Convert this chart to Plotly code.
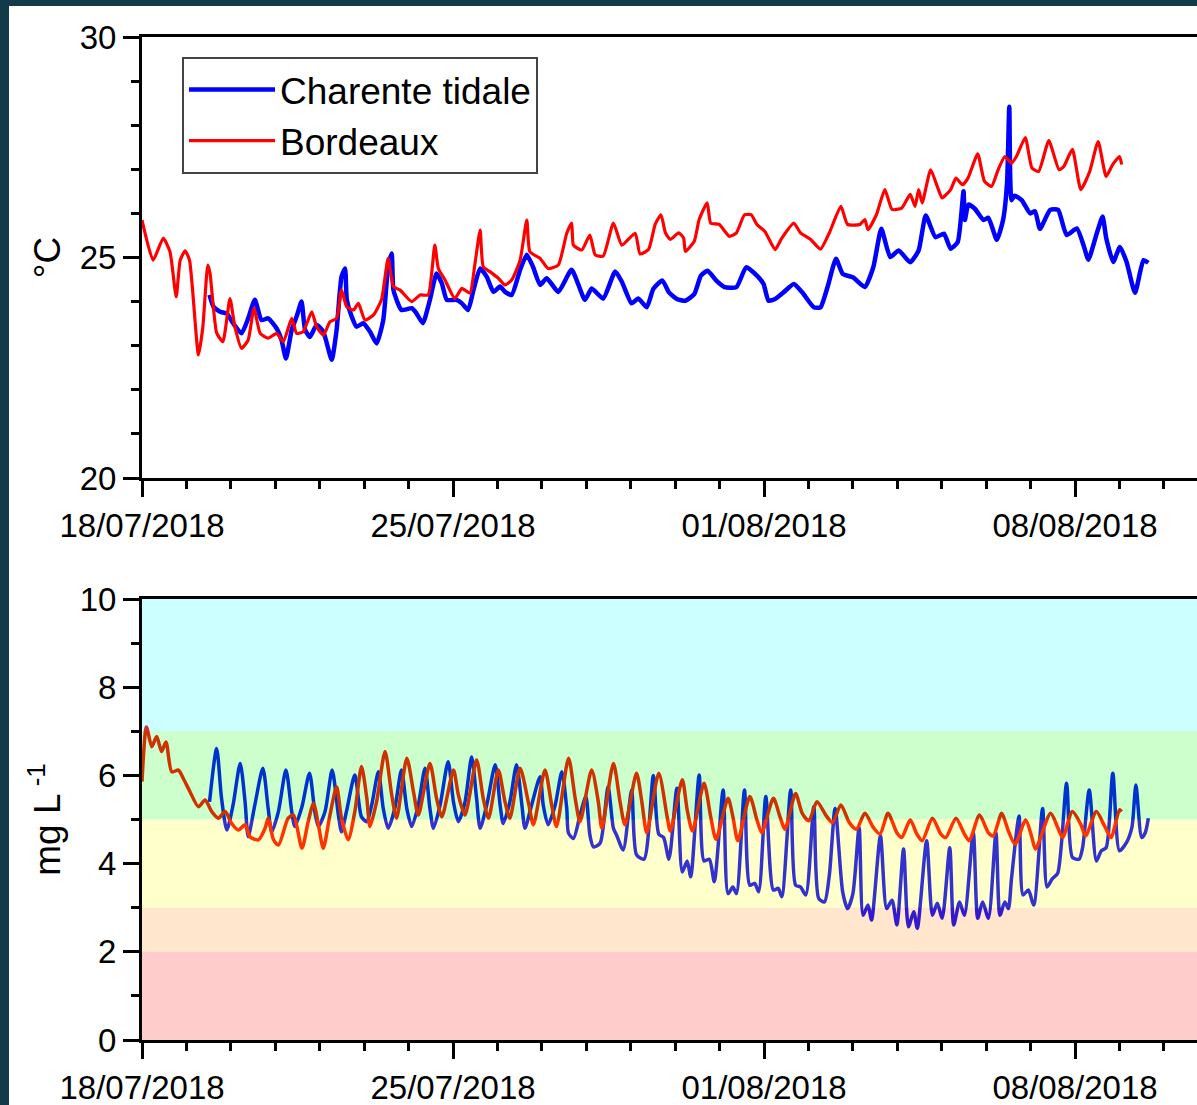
import pandas as pd
import plotly.graph_objects as go

START = pd.Timestamp("2018-07-18")

# ---------------- data (days since 18/07/2018 00:00) ----------------
temp_bordeaux_day = [0, 0.25, 0.48, 0.63, 0.77, 0.86, 0.97, 1.07, 1.27, 1.37, 1.48, 1.53, 1.68, 1.82, 1.98, 2.09,
                     2.24, 2.39, 2.52, 2.66, 2.84, 3.03, 3.18, 3.37, 3.48, 3.63, 3.82, 3.93, 4.08, 4.23, 4.38, 4.49,
                     4.61, 4.76, 4.87, 5.02, 5.21, 5.39, 5.54, 5.66, 5.81, 6.07, 6.26, 6.44, 6.59, 6.67, 6.82, 7.04,
                     7.20, 7.38, 7.49, 7.61, 7.68, 7.83, 8.02, 8.17, 8.32, 8.51, 8.66, 8.73, 8.96, 9.14, 9.37, 9.56,
                     9.67, 9.71, 9.90, 10.08, 10.20, 10.38, 10.61, 10.80, 11.10, 11.21, 11.40, 11.55, 11.68, 11.78,
                     11.89, 12.08, 12.19, 12.23, 12.43, 12.54, 12.72, 12.80, 12.99, 13.22, 13.38, 13.56, 13.71, 13.84,
                     14.02, 14.25, 14.40, 14.67, 14.82, 15.05, 15.27, 15.47, 15.73, 15.88, 16.16, 16.27, 16.34, 16.53,
                     16.72, 16.88, 17.10, 17.29, 17.40, 17.48, 17.56, 17.75, 17.90, 18.01, 18.20, 18.32, 18.47, 18.59,
                     18.81, 18.96, 19.12, 19.27, 19.42, 19.57, 19.68, 19.88, 20.03, 20.18, 20.41, 20.64, 20.75, 20.94,
                     21.13, 21.33, 21.52, 21.70, 21.85, 22.00, 22.05]
temp_bordeaux = [25.85, 24.94, 25.44, 25.13, 24.11, 24.94, 25.15, 24.94, 22.79, 23.43, 24.83, 24.65, 23.29, 23.09,
                 24.07, 23.43, 22.94, 23.13, 23.85, 23.28, 23.17, 23.28, 23.09, 23.62, 23.28, 23.32, 23.77, 23.43,
                 23.24, 23.54, 23.62, 24.26, 23.88, 23.81, 23.96, 23.58, 23.70, 24.04, 24.98, 24.34, 24.26, 24.00,
                 24.15, 24.15, 25.28, 24.75, 24.49, 24.07, 24.30, 24.19, 24.83, 25.62, 24.79, 24.68, 24.53, 24.38,
                 24.49, 24.94, 25.85, 25.13, 24.98, 24.75, 24.83, 25.55, 25.78, 25.28, 25.17, 25.51, 25.06, 25.03,
                 25.78, 25.28, 25.55, 25.08, 25.18, 25.75, 25.97, 25.56, 25.41, 25.56, 25.44, 25.14, 25.37, 25.86,
                 26.24, 25.78, 25.75, 25.48, 25.56, 25.97, 25.97, 25.75, 25.59, 25.18, 25.44, 25.78, 25.56, 25.41,
                 25.19, 25.56, 26.16, 25.75, 25.75, 25.86, 25.63, 25.97, 26.54, 26.09, 26.12, 26.43, 26.16, 26.54,
                 26.24, 26.99, 26.61, 26.35, 26.54, 26.80, 26.65, 26.80, 27.35, 26.73, 26.61, 26.99, 27.29, 27.14,
                 27.29, 27.72, 27.03, 26.95, 27.65, 26.99, 27.07, 27.45, 26.54, 26.95, 27.63, 26.84, 27.11, 27.29,
                 27.11]

temp_charente_day = [1.52, 1.61, 1.76, 1.91, 2.05, 2.24, 2.39, 2.54, 2.69, 2.84, 3.03, 3.14, 3.24, 3.37, 3.48, 3.59,
                     3.67, 3.78, 3.93, 4.08, 4.27, 4.38, 4.49, 4.57, 4.61, 4.72, 4.83, 4.98, 5.13, 5.28, 5.43, 5.54,
                     5.62, 5.66, 5.84, 6.07, 6.18, 6.32, 6.48, 6.63, 6.75, 6.86, 7.08, 7.20, 7.34, 7.46, 7.61, 7.76,
                     7.91, 8.06, 8.17, 8.32, 8.51, 8.66, 8.80, 8.96, 9.11, 9.37, 9.67, 9.97, 10.12, 10.38, 10.65, 10.80,
                     11.02, 11.17, 11.36, 11.51, 11.71, 11.86, 12.04, 12.23, 12.43, 12.58, 12.73, 12.92, 13.11, 13.38,
                     13.60, 13.84, 13.99, 14.10, 14.25, 14.44, 14.67, 14.86, 15.12, 15.27, 15.43, 15.62, 15.77, 16.00,
                     16.27, 16.46, 16.64, 16.84, 17.03, 17.29, 17.48, 17.64, 17.86, 18.05, 18.20, 18.36, 18.49, 18.52,
                     18.60, 18.75, 18.94, 19.05, 19.24, 19.38, 19.47, 19.52, 19.57, 19.64, 19.80, 19.99, 20.10, 20.21,
                     20.44, 20.62, 20.81, 21.04, 21.20, 21.30, 21.49, 21.62, 21.70, 21.86, 22.01, 22.16, 22.35, 22.54,
                     22.65]
temp_charente = [24.15, 23.88, 23.77, 23.73, 23.51, 23.28, 23.62, 24.04, 23.58, 23.62, 23.39, 23.13, 22.71, 23.36,
                 23.66, 24.00, 23.36, 23.20, 23.47, 23.32, 22.68, 23.36, 24.56, 24.75, 24.04, 23.66, 23.43, 23.51,
                 23.32, 23.05, 23.58, 24.79, 25.09, 24.26, 23.81, 23.85, 23.73, 23.51, 24.04, 24.64, 24.41, 24.04,
                 24.04, 23.96, 23.81, 24.26, 24.75, 24.56, 24.22, 24.34, 24.22, 24.15, 24.72, 25.06, 24.79, 24.38,
                 24.53, 24.22, 24.72, 24.04, 24.30, 24.07, 24.68, 24.45, 23.96, 24.07, 23.87, 24.29, 24.48, 24.21,
                 24.06, 24.02, 24.17, 24.59, 24.70, 24.48, 24.33, 24.33, 24.78, 24.59, 24.40, 24.02, 24.06, 24.21,
                 24.40, 24.21, 23.87, 23.87, 24.33, 24.97, 24.63, 24.55, 24.33, 24.78, 25.65, 25.01, 25.16, 24.89,
                 25.16, 25.95, 25.46, 25.54, 25.20, 25.35, 26.50, 25.85, 26.20, 26.10, 25.85, 25.90, 25.40, 25.85,
                 26.70, 28.42, 26.30, 26.40, 26.30, 26.00, 26.05, 25.65, 26.08, 26.08, 25.51, 25.66, 25.25, 24.95,
                 25.55, 25.93, 25.45, 24.90, 25.24, 24.90, 24.20, 24.94, 24.88]

do_bordeaux_day = [0, 0.10, 0.22, 0.33, 0.44, 0.54, 0.67, 0.82, 0.93, 1.08, 1.27, 1.42, 1.57, 1.72, 1.87, 2.02, 2.17,
                   2.32, 2.43, 2.62, 2.77, 2.84, 2.96, 3.07, 3.29, 3.41, 3.60, 3.74, 3.86, 3.97, 4.08, 4.23, 4.38,
                   4.49, 4.64, 4.79, 4.94, 5.06, 5.13, 5.28, 5.47, 5.62, 5.73, 5.96, 6.11, 6.22, 6.48, 6.63, 6.75,
                   7.01, 7.12, 7.27, 7.53, 7.68, 7.80, 8.02, 8.17, 8.28, 8.51, 8.70, 8.81, 9.07, 9.22, 9.33, 9.60,
                   9.75, 9.86, 10.12, 10.27, 10.35, 10.61, 10.76, 10.87, 11.13, 11.25, 11.36, 11.63, 11.82, 11.89,
                   12.16, 12.27, 12.39, 12.65, 12.80, 12.92, 13.19, 13.30, 13.41, 13.68, 13.84, 13.95, 14.21, 14.36,
                   14.47, 14.71, 14.86, 15.01, 15.19, 15.39, 15.54, 15.73, 15.92, 16.08, 16.27, 16.46, 16.61, 16.79,
                   16.99, 17.10, 17.29, 17.44, 17.56, 17.79, 17.98, 18.09, 18.32, 18.51, 18.62, 18.85, 19.05, 19.16,
                   19.35, 19.50, 19.65, 19.89, 20.03, 20.11, 20.45, 20.61, 20.72, 20.94, 21.13, 21.24, 21.48, 21.66,
                   21.81, 22.00, 22.05]
do_bordeaux = [5.86, 7.10, 6.65, 6.88, 6.54, 6.76, 6.08, 6.12, 5.93, 5.63, 5.29, 5.44, 5.18, 5.03, 5.18, 4.91, 4.76,
               4.88, 4.61, 4.54, 4.80, 5.03, 4.54, 4.42, 5.03, 5.10, 4.35, 4.95, 5.37, 4.88, 4.35, 5.10, 5.74, 5.03,
               4.54, 5.18, 6.20, 5.48, 4.84, 5.40, 6.54, 5.56, 5.03, 6.39, 5.63, 5.10, 6.27, 5.48, 5.06, 6.12, 5.56,
               5.10, 6.35, 5.48, 5.03, 6.12, 5.40, 5.03, 6.16, 5.37, 4.88, 6.12, 5.33, 4.84, 6.39, 5.48, 4.95, 6.12,
               5.40, 4.80, 6.27, 5.40, 4.88, 6.05, 5.40, 4.70, 6.05, 5.06, 4.74, 5.90, 5.22, 4.74, 5.82, 5.06, 4.55,
               5.48, 5.06, 4.52, 5.52, 4.99, 4.70, 5.48, 5.06, 4.78, 5.59, 5.14, 4.97, 5.40, 5.10, 4.93, 5.33, 4.93,
               4.78, 5.14, 4.82, 4.67, 5.14, 4.70, 4.59, 4.99, 4.67, 4.52, 5.03, 4.67, 4.59, 5.03, 4.67, 4.52, 5.10,
               4.70, 4.63, 5.14, 4.74, 4.44, 4.99, 4.59, 4.33, 5.14, 4.82, 4.59, 5.18, 4.89, 4.63, 5.18, 4.86, 4.59,
               5.22, 5.18]

do_charente_day = [1.52, 1.68, 1.79, 1.91, 2.05, 2.21, 2.32, 2.39, 2.54, 2.72, 2.84, 2.92, 3.07, 3.24, 3.37, 3.44,
                   3.60, 3.77, 3.89, 3.97, 4.12, 4.28, 4.42, 4.49, 4.61, 4.79, 4.94, 5.06, 5.17, 5.32, 5.43, 5.54,
                   5.69, 5.84, 5.96, 6.07, 6.22, 6.37, 6.48, 6.56, 6.71, 6.89, 7.01, 7.12, 7.27, 7.42, 7.53, 7.61,
                   7.76, 7.95, 8.06, 8.13, 8.28, 8.43, 8.55, 8.62, 8.77, 8.96, 9.03, 9.14, 9.30, 9.45, 9.56, 9.60,
                   9.71, 9.86, 9.99, 10.08, 10.16, 10.31, 10.49, 10.61, 10.68, 10.83, 11.02, 11.13, 11.30, 11.51,
                   11.63, 11.74, 11.86, 12.04, 12.16, 12.27, 12.35, 12.54, 12.65, 12.77, 12.88, 13.08, 13.19, 13.30,
                   13.38, 13.56, 13.68, 13.79, 13.88, 14.04, 14.21, 14.32, 14.40, 14.60, 14.71, 14.82, 14.94, 15.12,
                   15.23, 15.36, 15.47, 15.60, 15.77, 15.88, 16.00, 16.14, 16.23, 16.34, 16.42, 16.62, 16.76, 16.88,
                   16.99, 17.14, 17.25, 17.37, 17.45, 17.66, 17.79, 17.90, 18.01, 18.18, 18.27, 18.40, 18.51, 18.71,
                   18.81, 18.92, 19.05, 19.22, 19.31, 19.42, 19.50, 19.57, 19.74, 19.83, 19.95, 20.07, 20.27, 20.37,
                   20.49, 20.61, 20.81, 20.94, 21.09, 21.17, 21.32, 21.48, 21.59, 21.70, 21.85, 22.00, 22.16, 22.28,
                   22.37, 22.50, 22.58, 22.65]
do_charente = [5.40, 6.61, 5.48, 4.76, 5.33, 6.27, 5.40, 4.61, 5.33, 6.16, 5.25, 4.72, 5.18, 6.12, 5.18, 4.84, 5.29,
               6.05, 5.18, 4.84, 5.18, 6.12, 5.10, 4.72, 5.22, 6.01, 5.06, 4.95, 5.33, 6.08, 5.25, 4.80, 5.25, 6.12,
               5.25, 4.84, 5.33, 6.16, 5.25, 4.80, 5.33, 6.31, 5.40, 4.95, 5.40, 6.42, 5.48, 4.80, 5.33, 6.24, 5.33,
               4.91, 5.40, 6.24, 5.33, 4.80, 5.33, 5.97, 5.33, 4.88, 5.33, 6.08, 5.25, 4.69, 4.57, 5.10, 5.52, 4.65,
               4.38, 4.46, 5.74, 4.80, 4.65, 4.31, 5.67, 4.20, 4.10, 6.00, 4.67, 4.59, 4.10, 5.71, 3.81, 4.06, 3.70,
               6.01, 4.06, 4.10, 3.59, 5.67, 3.32, 3.47, 3.32, 5.67, 3.51, 3.55, 3.36, 5.52, 3.40, 3.44, 3.25, 5.67,
               3.51, 3.47, 3.29, 5.29, 3.21, 3.13, 3.74, 5.25, 3.36, 2.98, 3.32, 4.82, 2.83, 3.06, 2.72, 4.63, 2.98,
               3.17, 2.61, 4.33, 2.57, 2.91, 2.53, 4.52, 2.83, 3.10, 2.76, 4.36, 2.61, 3.13, 2.83, 4.70, 2.76, 3.13,
               2.76, 4.70, 2.83, 3.13, 2.98, 3.66, 5.08, 3.29, 3.40, 3.06, 5.25, 3.47, 3.66, 3.78, 5.82, 4.14, 4.10,
               4.36, 5.67, 4.06, 4.29, 4.36, 6.05, 4.29, 4.48, 4.82, 5.78, 4.59, 4.70, 5.03]

# oxygen classes (mg/L) shown as coloured bands
do_band_edges = [0, 2, 3, 5, 7, 10]
do_band_colors = ["#ff0000", "#ff8000", "#ffff00", "#00ff00", "#00ffff"]

x_tick_start = "2018-07-18"
x_end_days = 23.745


def to_time(days):
    return START + pd.to_timedelta(days, unit="D")


FONT = "Liberation Sans, Arial, sans-serif"
W, H = 1197, 1105
ML, MR, MT, MB = 142, 0, 37, 65
PW, PH = W - ML - MR, H - MT - MB


def px_x(p):
    return (p - ML) / PW


def px_y(p):
    return (H - MB - p) / PH


fig = go.Figure()

fig.add_trace(go.Scatter(x=to_time(temp_charente_day), y=temp_charente, mode="lines",
                         name="Charente tidale",
                         line=dict(color="#0000ff", width=4.5, shape="spline", smoothing=0.5),
                         xaxis="x", yaxis="y"))
fig.add_trace(go.Scatter(x=to_time(temp_bordeaux_day), y=temp_bordeaux, mode="lines",
                         name="Bordeaux",
                         line=dict(color="#ff0000", width=3.2, shape="spline", smoothing=0.5),
                         xaxis="x", yaxis="y"))
fig.add_trace(go.Scatter(x=to_time(do_charente_day), y=do_charente, mode="lines",
                         name="Charente tidale", showlegend=False,
                         line=dict(color="#0000ff", width=3.5, shape="spline", smoothing=0.7),
                         xaxis="x2", yaxis="y2"))
fig.add_trace(go.Scatter(x=to_time(do_bordeaux_day), y=do_bordeaux, mode="lines",
                         name="Bordeaux", showlegend=False,
                         line=dict(color="#ff0000", width=3.5, shape="spline", smoothing=0.7),
                         xaxis="x2", yaxis="y2"))

x_range = [START, START + pd.Timedelta(days=x_end_days)]
xcommon = dict(type="date", range=x_range, tickformat="%d/%m/%Y", dtick=7 * 86400000, tick0=x_tick_start,
               showline=True, linecolor="black", linewidth=3, mirror=True,
               ticks="outside", ticklen=16, tickwidth=3, tickcolor="black",
               minor=dict(dtick=86400000, tick0=x_tick_start, ticks="outside", ticklen=8, tickwidth=3,
                          tickcolor="black", showgrid=False),
               showgrid=False, zeroline=False,
               tickfont=dict(family=FONT, size=33, color="black"))
ycommon = dict(showline=True, linecolor="black", linewidth=3, ticks="outside", ticklen=16, tickwidth=3,
               tickcolor="black", showgrid=False, zeroline=False,
               tickfont=dict(family=FONT, size=33, color="black"))

top_dom = [px_y(478), 1.0]
bot_dom = [0.0, px_y(599)]

fig.update_layout(
    width=W, height=H,
    margin=dict(l=ML, r=MR, t=MT, b=MB, autoexpand=False),
    paper_bgcolor="white", plot_bgcolor="white",
    font=dict(family=FONT, color="black"),
    xaxis=dict(**xcommon, anchor="y", domain=[0, 1]),
    xaxis2=dict(**xcommon, anchor="y2", domain=[0, 1]),
    yaxis=dict(**ycommon, anchor="x", domain=top_dom, range=[20, 30], dtick=5, tick0=0,
               minor=dict(dtick=1, ticks="outside", ticklen=8, tickwidth=3, tickcolor="black", showgrid=False),
               title=dict(text="°C", font=dict(family=FONT, size=37, color="black"), standoff=8)),
    yaxis2=dict(**ycommon, anchor="x2", domain=bot_dom, range=[0, 10], dtick=2, tick0=0,
                minor=dict(dtick=1, ticks="outside", ticklen=8, tickwidth=3, tickcolor="black", showgrid=False),
                title=dict(text="mg L<sup> -1</sup>", font=dict(family=FONT, size=37, color="black"), standoff=8)),
    legend=dict(x=px_x(182), y=px_y(57), xanchor="left", yanchor="top",
                bgcolor="white", bordercolor="#444444", borderwidth=2,
                font=dict(family=FONT, size=37, color="black"), itemwidth=86, tracegroupgap=0),
    showlegend=True,
)

shapes = []
for lo, hi, col in zip(do_band_edges[:-1], do_band_edges[1:], do_band_colors):
    shapes.append(dict(type="rect", xref="x2 domain", x0=0, x1=1, yref="y2", y0=lo, y1=hi,
                       fillcolor=col, opacity=0.2, line=dict(width=0), layer="above"))
# dark frame around the figure (left and top)
shapes.append(dict(type="rect", xref="paper", yref="paper", x0=px_x(-5), x1=px_x(9), y0=px_y(H + 5), y1=px_y(-5),
                   fillcolor="#133a48", line=dict(width=0), layer="above"))
shapes.append(dict(type="rect", xref="paper", yref="paper", x0=px_x(-5), x1=px_x(W + 5), y0=px_y(6), y1=px_y(-5),
                   fillcolor="#133a48", line=dict(width=0), layer="above"))
fig.update_layout(shapes=shapes)

fig.write_html("out.html")
